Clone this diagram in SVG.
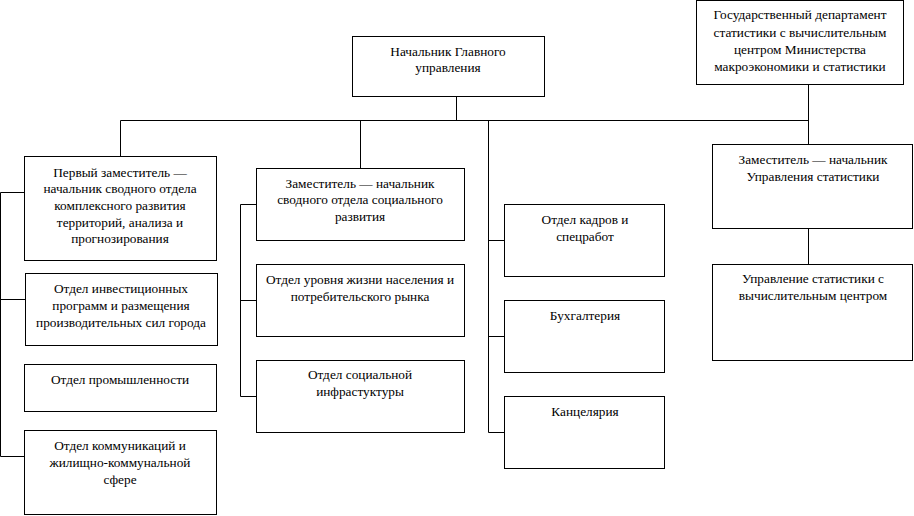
<svg xmlns="http://www.w3.org/2000/svg" width="914" height="516" viewBox="0 0 914 516">
<style>
  rect.box { fill: #ffffff; stroke: #000000; stroke-width: 1; }
  .conn line { stroke: #000000; stroke-width: 1; fill: none; }
  .t text { font-family: 'Liberation Serif', 'DejaVu Serif', serif; font-size: 13.3px; fill: #000000; text-anchor: middle; }
</style>
<rect x="0" y="0" width="914" height="516" fill="#ffffff"/>
<g id="connectors" class="conn">
  <line x1="456.5" y1="96.5" x2="456.5" y2="120.5"/>
  <line x1="120.5" y1="120.5" x2="808.5" y2="120.5"/>
  <line x1="120.5" y1="120.5" x2="120.5" y2="156.5"/>
  <line x1="360.5" y1="120.5" x2="360.5" y2="168.5"/>
  <line x1="488.5" y1="120.5" x2="488.5" y2="432.5"/>
  <line x1="488.5" y1="240.5" x2="504.5" y2="240.5"/>
  <line x1="488.5" y1="336.5" x2="504.5" y2="336.5"/>
  <line x1="488.5" y1="432.5" x2="504.5" y2="432.5"/>
  <line x1="808.5" y1="84.5" x2="808.5" y2="144.5"/>
  <line x1="808.5" y1="228.5" x2="808.5" y2="264.5"/>
  <line x1="0.5" y1="192.5" x2="0.5" y2="456.5"/>
  <line x1="0.5" y1="192.5" x2="24.5" y2="192.5"/>
  <line x1="0.5" y1="299.5" x2="25.5" y2="299.5"/>
  <line x1="0.5" y1="456.5" x2="24.5" y2="456.5"/>
  <line x1="240.5" y1="204.5" x2="240.5" y2="396.5"/>
  <line x1="240.5" y1="204.5" x2="256.5" y2="204.5"/>
  <line x1="240.5" y1="300.5" x2="256.5" y2="300.5"/>
  <line x1="240.5" y1="396.5" x2="256.5" y2="396.5"/>
</g>
<g id="n-head" class="t">
  <rect class="box" x="352.5" y="36.5" width="192" height="60"/>
  <text x="448" y="55.5">Начальник Главного</text>
  <text x="448" y="72">управления</text>
</g>
<g id="n-gov" class="t">
  <rect class="box" x="696.5" y="0.5" width="207" height="84"/>
  <text x="800" y="19">Государственный департамент</text>
  <text x="800" y="36.5">статистики с вычислительным</text>
  <text x="800" y="53.5">центром Министерства</text>
  <text x="800" y="70.5">макроэкономики и статистики</text>
</g>
<g id="n-first" class="t">
  <rect class="box" x="24.5" y="156.5" width="192" height="104"/>
  <text x="120" y="176.7">Первый заместитель —</text>
  <text x="120" y="193.3">начальник сводного отдела</text>
  <text x="120" y="210">комплексного развития</text>
  <text x="120" y="226.7">территорий, анализа и</text>
  <text x="120" y="243.3">прогнозирования</text>
</g>
<g id="n-invest" class="t">
  <rect class="box" x="25.5" y="273.5" width="192" height="72"/>
  <text x="121" y="292.7">Отдел инвестиционных</text>
  <text x="121" y="310">программ и размещения</text>
  <text x="121" y="327">производительных сил города</text>
</g>
<g id="n-prom" class="t">
  <rect class="box" x="24.5" y="364.5" width="192" height="47"/>
  <text x="120" y="383.7">Отдел промышленности</text>
</g>
<g id="n-komm" class="t">
  <rect class="box" x="24.5" y="430.5" width="192" height="84"/>
  <text x="120" y="450.3">Отдел коммуникаций и</text>
  <text x="120" y="467.3">жилищно-коммунальной</text>
  <text x="120" y="484">сфере</text>
</g>
<g id="n-social" class="t">
  <rect class="box" x="256.5" y="168.5" width="208" height="72"/>
  <text x="360" y="187.7">Заместитель — начальник</text>
  <text x="360" y="204.3">сводного отдела социального</text>
  <text x="360" y="221.3">развития</text>
</g>
<g id="n-level" class="t">
  <rect class="box" x="256.5" y="264.5" width="208" height="72"/>
  <text x="360" y="283.7">Отдел уровня жизни населения и</text>
  <text x="360" y="301">потребительского рынка</text>
</g>
<g id="n-infra" class="t">
  <rect class="box" x="256.5" y="360.5" width="208" height="72"/>
  <text x="360" y="379.3">Отдел социальной</text>
  <text x="360" y="396">инфрастуктуры</text>
</g>
<g id="n-kadr" class="t">
  <rect class="box" x="504.5" y="204.5" width="160" height="72"/>
  <text x="585" y="224">Отдел кадров и</text>
  <text x="585" y="241">спецработ</text>
</g>
<g id="n-buh" class="t">
  <rect class="box" x="504.5" y="300.5" width="160" height="72"/>
  <text x="585" y="320">Бухгалтерия</text>
</g>
<g id="n-kanc" class="t">
  <rect class="box" x="504.5" y="396.5" width="160" height="72"/>
  <text x="585" y="416">Канцелярия</text>
</g>
<g id="n-statzam" class="t">
  <rect class="box" x="712.5" y="144.5" width="200" height="84"/>
  <text x="813" y="163.7">Заместитель — начальник</text>
  <text x="813" y="181">Управления статистики</text>
</g>
<g id="n-stat" class="t">
  <rect class="box" x="712.5" y="264.5" width="200" height="96"/>
  <text x="813" y="283.3">Управление статистики с</text>
  <text x="813" y="300.3">вычислительным центром</text>
</g>
</svg>
